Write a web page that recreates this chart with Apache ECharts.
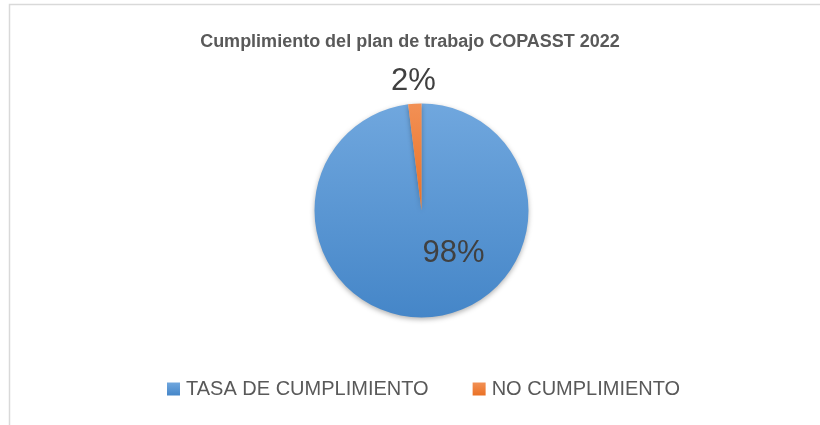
<!DOCTYPE html>
<html>
<head>
<meta charset="utf-8">
<script src="https://cdn.jsdelivr.net/npm/echarts@6/dist/echarts.min.js"></script>
<style>
  html, body { margin: 0; padding: 0; background: #fff; }
  #chart { width: 820px; height: 425px; }
</style>
</head>
<body>
<div id="chart"></div>
<script>
// data
const categories = ['TASA DE CUMPLIMIENTO', 'NO CUMPLIMIENTO'];
const values = [98, 2];
const labels = ['98%', '2%'];

const colors = [
  ['#70A7DE', '#4586C8'], // blue top -> bottom
  ['#F29055', '#EA7125'], // orange
];

// label spots relative to pie center (Excel "best fit" spots)
const labelSpots = [
  { dx: 32, dy: 43 },
  { dx: -8, dy: -129 },
];

const cx = 421.5;
const cy = 210.5;

const chart = echarts.init(document.getElementById('chart'));

const option = {
  backgroundColor: '#FFFFFF',
  animation: false,
  title: {
    text: 'Cumplimiento del plan de trabajo COPASST 2022',
    left: 'center',
    top: 28,
    textStyle: {
      fontFamily: 'Liberation Sans',
      fontSize: 18,
      fontWeight: 'bold',
      color: '#595959',
    },
  },
  legend: {
    top: 374,
    left: 162,
    icon: 'rect',
    itemWidth: 13,
    itemHeight: 13,
    itemGap: 44,
    data: categories,
    textStyle: {
      fontFamily: 'Liberation Sans',
      fontSize: 20,
      color: '#595959',
      padding: [0, 0, 0, 1],
    },
  },
  graphic: [
    {
      type: 'rect',
      silent: true,
      shape: { x: 9.5, y: 4.5, width: 900, height: 600 },
      style: { fill: 'none', stroke: '#D9D9D9', lineWidth: 1.5 },
    },
  ],
  series: [
    {
      type: 'pie',
      center: [cx, cy],
      radius: [0, 107],
      startAngle: 90,
      clockwise: true,
      avoidLabelOverlap: false,
      emphasis: { disabled: true },
      itemStyle: {
        shadowBlur: 5,
        shadowOffsetY: 2,
        shadowColor: 'rgba(0,0,0,0.3)',
      },
      labelLine: { show: false },
      label: {
        show: true,
        position: 'inside',
        fontFamily: 'Liberation Sans',
        fontSize: 31,
        color: '#404040',
        formatter: (p) => labels[p.dataIndex],
      },
      labelLayout: (p) => ({
        x: cx + labelSpots[p.dataIndex].dx,
        y: cy + labelSpots[p.dataIndex].dy,
        align: 'center',
        verticalAlign: 'middle',
      }),
      data: categories.map((name, i) => ({
        name: name,
        value: values[i],
        itemStyle: {
          color: new echarts.graphic.LinearGradient(0, 0, 0, 1, [
            { offset: 0, color: colors[i][0] },
            { offset: 1, color: colors[i][1] },
          ]),
        },
      })),
    },
  ],
};

chart.setOption(option);
</script>
</body>
</html>
